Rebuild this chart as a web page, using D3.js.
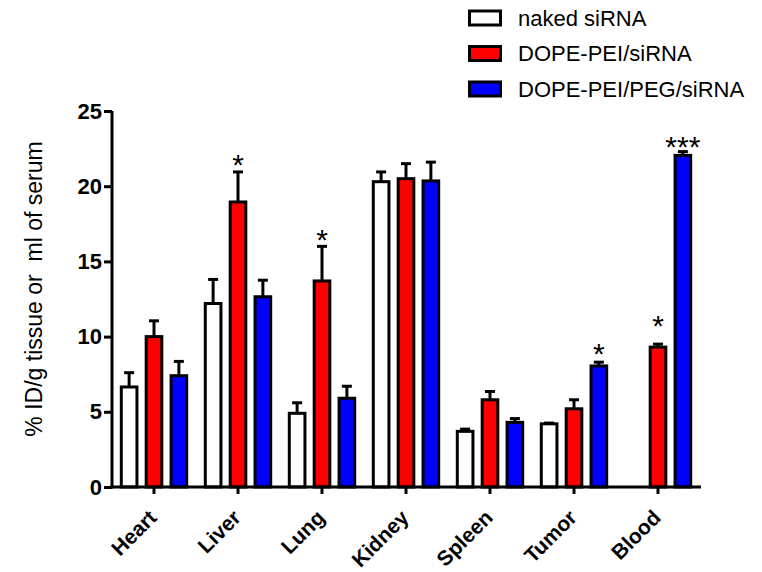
<!DOCTYPE html>
<html>
<head>
<meta charset="utf-8">
<script src="https://cdn.jsdelivr.net/npm/d3@7"></script>
<style>
  body { margin: 0; background: #fff; }
  svg { font-family: Arial, "Liberation Sans", sans-serif; }
</style>
</head>
<body>
<script>
// organen op de x-as
var categories = ["Heart", "Liver", "Lung", "Kidney", "Spleen", "Tumor", "Blood"];
var seriesNames = ["naked siRNA", "DOPE-PEI/siRNA", "DOPE-PEI/PEG/siRNA"];
var seriesColors = ["#ffffff", "#ff0000", "#0000ff"];

// gemiddelden per reeks
var naked = [6.65, 12.2, 4.9, 20.3, 3.7, 4.2, 0];
var dopePei = [10.0, 18.95, 13.7, 20.5, 5.8, 5.2, 9.3];
var dopePeiPeg = [7.4, 12.65, 5.9, 20.35, 4.3, 8.05, 22.05];

// foutbalken (alleen naar boven)
var nakedErr = [0.95, 1.6, 0.7, 0.65, 0.15, 0.05, 0];
var dopePeiErr = [1.05, 2.0, 2.3, 1.0, 0.55, 0.6, 0.2];
var dopePeiPegErr = [0.95, 1.1, 0.8, 1.25, 0.25, 0.25, 0.25];

var yTicks = [0, 5, 10, 15, 20, 25];

// significantie-sterretjes: orgaan, reeks, label, hoogte (waarde)
var stars = [
  {cat: "Liver", s: 1, label: "*", at: 21.9},
  {cat: "Lung", s: 1, label: "*", at: 16.9},
  {cat: "Tumor", s: 2, label: "*", at: 9.3},
  {cat: "Blood", s: 1, label: "*", at: 11.2},
  {cat: "Blood", s: 2, label: "***", at: 23.1}
];

var values = [naked, dopePei, dopePeiPeg];
var errors = [nakedErr, dopePeiErr, dopePeiPegErr];

var data = [];
categories.forEach(function(c, i){
  values.forEach(function(v, s){
    data.push({cat: c, s: s, value: v[i], err: errors[s][i]});
  });
});

var width = 762, height = 572;
var svg = d3.select("body").append("svg").attr("width", width).attr("height", height);

var y = d3.scaleLinear().domain([0, 25]).range([487, 111]);
var x0 = d3.scaleBand().domain(categories).range([112, 700]).padding(0);
var x1 = d3.scaleBand().domain([0, 1, 2]).range([-34.2, 34.2]).paddingInner(0.25);

function cx(d){ return x0(d.cat) + x0.bandwidth() / 2; }

// balken
svg.append("g").selectAll("rect")
  .data(data.filter(function(d){ return d.value > 0; }))
  .enter().append("rect")
  .attr("x", function(d){ return cx(d) + x1(d.s) + 1.5; })
  .attr("y", function(d){ return y(d.value); })
  .attr("width", x1.bandwidth() - 3)
  .attr("height", function(d){ return y(0) - y(d.value); })
  .attr("fill", function(d){ return seriesColors[d.s]; })
  .attr("stroke", "#000")
  .attr("stroke-width", 3);

// foutbalken
var eb = svg.append("g").selectAll("g")
  .data(data.filter(function(d){ return d.value > 0; }))
  .enter().append("g")
  .attr("stroke", "#000").attr("stroke-width", 3);
eb.append("line")
  .attr("x1", function(d){ return cx(d) + x1(d.s) + x1.bandwidth() / 2; })
  .attr("x2", function(d){ return cx(d) + x1(d.s) + x1.bandwidth() / 2; })
  .attr("y1", function(d){ return y(d.value); })
  .attr("y2", function(d){ return y(d.value + d.err); });
eb.append("line")
  .attr("x1", function(d){ return cx(d) + x1(d.s) + x1.bandwidth() / 2 - 5; })
  .attr("x2", function(d){ return cx(d) + x1(d.s) + x1.bandwidth() / 2 + 5; })
  .attr("y1", function(d){ return y(d.value + d.err); })
  .attr("y2", function(d){ return y(d.value + d.err); });

// sterretjes
svg.append("g").selectAll("text")
  .data(stars).enter().append("text")
  .attr("x", function(d){ return cx(d) + x1(d.s) + x1.bandwidth() / 2; })
  .attr("y", function(d){ return y(d.at) + 17; })
  .attr("text-anchor", "middle")
  .attr("font-size", 30)
  .text(function(d){ return d.label; });

// y-as
var yAxis = d3.axisLeft(y).tickValues(yTicks).tickSize(8).tickSizeOuter(0).tickPadding(2);
var gy = svg.append("g").attr("transform", "translate(112,0)").call(yAxis);
gy.select(".domain").attr("stroke-width", 3).attr("d", "M0," + (y(0) + 1.5) + "V" + y(25));
gy.selectAll(".tick line").attr("stroke-width", 3);
gy.selectAll(".tick text").attr("font-size", 22).attr("font-weight", "bold")
  .attr("font-family", "Arial, 'Liberation Sans', sans-serif").attr("fill", "#000");

// x-as
var xAxis = d3.axisBottom(x0).tickSize(7).tickSizeOuter(0).tickPadding(4);
var gx = svg.append("g").attr("transform", "translate(0," + y(0) + ")").call(xAxis);
gx.select(".domain").attr("stroke-width", 3).attr("d", "M110.5,0H701");
gx.selectAll(".tick line").attr("stroke-width", 3);
gx.selectAll(".tick text")
  .attr("font-size", 21).attr("font-weight", "bold")
  .attr("font-family", "Arial, 'Liberation Sans', sans-serif").attr("fill", "#000")
  .attr("text-anchor", "end")
  .attr("dy", null).attr("y", 0)
  .attr("transform", "translate(4,32) rotate(-45)");

// y-as titel
svg.append("text")
  .attr("transform", "translate(42,289) rotate(-90)")
  .attr("text-anchor", "middle")
  .attr("font-size", 23)
  .style("white-space", "pre")
  .text("% ID/g tissue or  ml of serum");

// legenda
var legend = svg.append("g").selectAll("g")
  .data(seriesNames).enter().append("g")
  .attr("transform", function(d, i){ return "translate(469.5," + (18 + i * 35.5) + ")"; });
legend.append("rect")
  .attr("x", 0).attr("y", -7).attr("width", 31).attr("height", 14)
  .attr("fill", function(d, i){ return seriesColors[i]; })
  .attr("stroke", "#000").attr("stroke-width", 3);
legend.append("text")
  .attr("x", 48.5).attr("y", 0).attr("dy", "0.35em")
  .attr("font-size", 22)
  .text(function(d){ return d; });
</script>
</body>
</html>
